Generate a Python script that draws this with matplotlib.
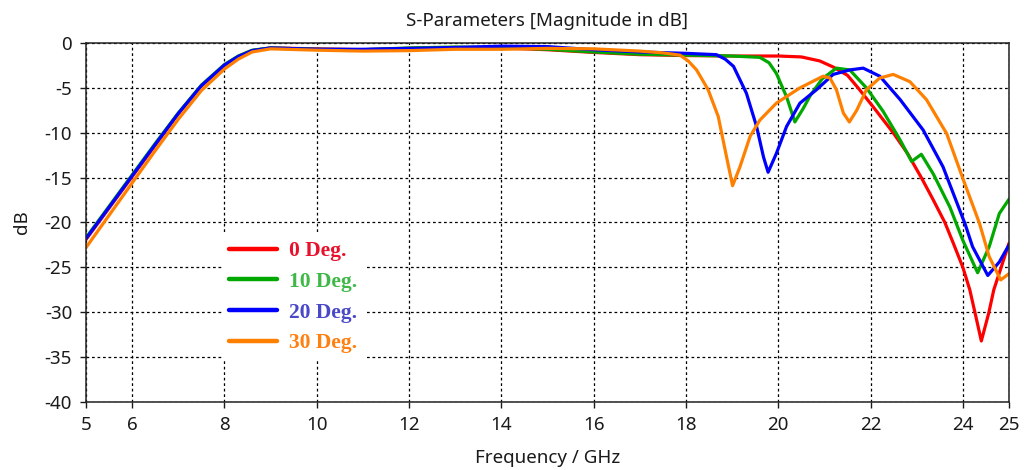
import matplotlib
matplotlib.use("Agg")
import matplotlib.pyplot as plt

plt.rcParams["axes.unicode_minus"] = False
plt.rcParams["font.family"] = ["Noto Sans", "DejaVu Sans"]

# |S11| in dB versus frequency (GHz) for four incidence angles
freq_0 = [5, 5.5, 6, 6.5, 7, 7.5, 8, 8.3, 8.6, 9, 10, 11, 12, 13, 14, 15, 16, 17, 18, 19, 20,
          20.5, 20.9, 21.2, 21.5, 21.73, 22.1, 22.49, 22.8, 23.1, 23.35, 23.61, 23.8, 24.0,
          24.15, 24.3, 24.4, 24.56, 24.67, 24.81, 25.0]
s11_0 = [-21.9, -18.4, -14.9, -11.4, -7.9, -4.8, -2.5, -1.5, -0.85, -0.55, -0.65, -0.75, -0.6,
         -0.5, -0.55, -0.75, -1.05, -1.3, -1.4, -1.45, -1.45,
         -1.55, -2.0, -2.7, -3.6, -5.0, -7.4, -10.0, -12.3, -15.0, -17.4, -20.0, -22.4, -25.0,
         -27.5, -30.9, -33.2, -30.1, -27.5, -25.3, -22.3]

freq_10 = [5, 5.5, 6, 6.5, 7, 7.5, 8, 8.3, 8.6, 9, 10, 11, 12, 13, 14, 15, 16, 17, 18, 19,
           19.6, 19.8, 19.96, 20.18, 20.36, 20.54, 20.7, 20.95, 21.26, 21.55, 21.91, 22.27,
           22.64, 22.89, 23.1, 23.36, 23.72, 24.0, 24.32, 24.57, 24.79, 25.0]
s11_10 = [-21.7, -18.2, -14.7, -11.2, -7.8, -4.7, -2.4, -1.45, -0.8, -0.55, -0.7, -0.75, -0.55,
          -0.45, -0.5, -0.7, -1.0, -1.25, -1.35, -1.45,
          -1.6, -2.2, -3.4, -6.0, -8.8, -7.3, -5.8, -4.0, -2.8, -3.0, -5.0, -7.6,
          -10.8, -13.2, -12.4, -14.6, -18.3, -22.0, -25.6, -22.7, -19.0, -17.4]

freq_20 = [5, 5.5, 6, 6.5, 7, 7.5, 8, 8.3, 8.6, 9, 10, 11, 12, 13, 14, 15, 16, 17, 18, 18.66,
           18.85, 19.03, 19.31, 19.53, 19.68, 19.78, 19.96, 20.18, 20.47, 20.83, 21.19, 21.55,
           21.84, 22.2, 22.64, 23.14, 23.57, 24.05, 24.21, 24.54, 24.79, 25.0]
s11_20 = [-21.8, -18.3, -14.8, -11.3, -7.85, -4.75, -2.45, -1.5, -0.85, -0.55, -0.7, -0.7, -0.6,
          -0.5, -0.35, -0.4, -0.75, -1.0, -1.15, -1.3,
          -1.8, -2.6, -5.6, -9.3, -12.7, -14.4, -12.3, -9.3, -6.7, -5.2, -3.5, -3.0,
          -2.8, -3.7, -6.3, -9.7, -13.8, -20.2, -22.7, -25.9, -24.4, -22.5]

freq_30 = [5, 5.5, 6, 6.5, 7, 7.5, 8, 8.3, 8.6, 9, 10, 11, 12, 13, 14, 15, 16, 17, 17.5, 17.87,
           18.05, 18.23, 18.48, 18.7, 18.88, 19.01, 19.17, 19.39, 19.6, 19.96, 20.47, 20.97,
           21.12, 21.26, 21.41, 21.54, 21.7, 21.91, 22.2, 22.49, 22.85, 23.21, 23.65, 24.0,
           24.36, 24.57, 24.82, 25.0]
s11_30 = [-22.8, -19.2, -15.6, -12.0, -8.5, -5.3, -2.9, -1.8, -1.0, -0.65, -0.8, -0.9, -0.85,
          -0.7, -0.7, -0.6, -0.65, -0.9, -1.1, -1.35,
          -2.0, -3.0, -5.2, -8.2, -12.7, -15.9, -13.8, -10.4, -8.6, -6.7, -5.0, -3.7,
          -3.9, -5.2, -7.8, -8.8, -7.5, -5.2, -3.9, -3.5, -4.3, -6.3, -10.1, -15.1,
          -20.1, -23.8, -26.4, -25.7]

labels = ["0 Deg.", "10 Deg.", "20 Deg.", "30 Deg."]
line_colors = ["#ff0000", "#00a800", "#0000ff", "#ff8000"]
text_colors = ["#e8102a", "#40b848", "#4848c8", "#ff8010"]

x_ticks = [5, 6, 8, 10, 12, 14, 16, 18, 20, 22, 24, 25]
y_ticks = [0, -5, -10, -15, -20, -25, -30, -35, -40]

fig = plt.figure(figsize=(10.27, 4.70), dpi=100)
ax = fig.add_axes([0.0837, 0.1447, 0.8988, 0.7638])

series = [(freq_0, s11_0), (freq_10, s11_10), (freq_20, s11_20), (freq_30, s11_30)]
handles = []
for (f, s), c, lab in zip(series, line_colors, labels):
    h, = ax.plot(f, s, color=c, lw=2.3, label=lab,
                 solid_joinstyle="round", solid_capstyle="round")
    handles.append(h)

ax.set_xlim(5, 25)
ax.set_ylim(-40, 0)
ax.set_xticks(x_ticks)
ax.set_yticks(y_ticks)
ax.grid(True, color="black", linestyle=(0, (2.2, 2.2)), linewidth=0.9)
ax.tick_params(direction="out", length=4, width=1, labelsize=13.5, colors="#1a1a1a")
ax.tick_params(axis="y", pad=6)
ax.tick_params(axis="x", pad=6)
for sp in ax.spines.values():
    sp.set_color("#222222")
    sp.set_linewidth(1.1)

ax.set_title("S-Parameters [Magnitude in dB]", fontsize=13.5, pad=12, color="#1a1a1a")
ax.set_xlabel("Frequency / GHz", fontsize=13.5, labelpad=11, color="#1a1a1a")
ax.set_ylabel("dB", fontsize=13.5, labelpad=10, color="#1a1a1a")

leg = ax.legend(handles=handles, loc="center left", bbox_to_anchor=(0.147, 0.292),
                prop={"family": "Liberation Serif", "weight": "bold", "size": 15.5},
                labelcolor=text_colors, frameon=True, facecolor="white", edgecolor="none",
                framealpha=1.0, fancybox=False, handlelength=2.23, handletextpad=0.56,
                labelspacing=0.49, borderpad=0.35, borderaxespad=0)
for ln in leg.get_lines():
    ln.set_linewidth(3.2)

fig.savefig("out.png", dpi=100)
